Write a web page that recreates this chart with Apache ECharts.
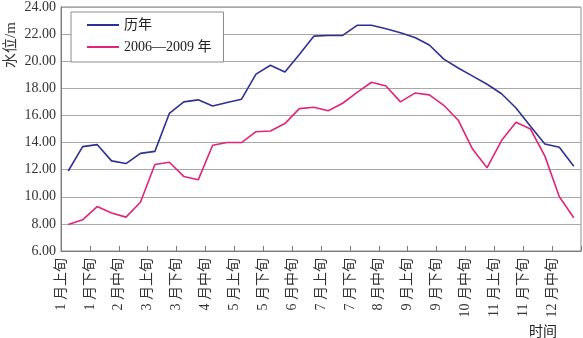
<!DOCTYPE html>
<html>
<head>
<meta charset="utf-8">
<script src="https://cdn.jsdelivr.net/npm/echarts@6/dist/echarts.min.js"></script>
<style>
html,body{margin:0;padding:0;background:#fff;}
#c{width:583px;height:338px;}
</style>
</head>
<body>
<div id="c"></div>
<script>
var months = ['1','2','3','4','5','6','7','8','9','10','11','12'];
var dekads = ['上旬','中旬','下旬'];
var categories = [];
months.forEach(function(m){ dekads.forEach(function(d){ categories.push(m + '月' + d); }); });

var seriesNames = ['历年', '2006—2009 年'];
var historical = [11.9, 13.7, 13.85, 12.65, 12.45, 13.2, 13.35, 16.15, 17.0, 17.15, 16.7, 16.95,
                  17.2, 19.05, 19.7, 19.2, 20.5, 21.85, 21.9, 21.9, 22.65, 22.65, 22.4, 22.1,
                  21.75, 21.2, 20.15, 19.5, 18.9, 18.3, 17.6, 16.55, 15.2, 13.9, 13.65, 12.25];
var recent = [7.95, 8.3, 9.28, 8.8, 8.5, 9.6, 12.38, 12.55, 11.5, 11.25, 13.8, 14.0,
              14.0, 14.8, 14.85, 15.4, 16.5, 16.6, 16.35, 16.9, 17.7, 18.45, 18.17, 17.0,
              17.65, 17.52, 16.75, 15.65, 13.5, 12.15, 14.15, 15.5, 15.0, 13.0, 10.0, 8.45];
var yMin = 6, yMax = 24, yStep = 2;
var yAxisTitle = '水位/m';
var xAxisTitle = '时间';

// label axis: one entry per band boundary (labels sit on the boundaries)
var boundaryLabels = categories.concat(['']);

var serif = '"Liberation Serif", "Noto Sans CJK SC", serif';
var chart = echarts.init(document.getElementById('c'), null, {renderer: 'canvas'});
chart.setOption({
  animation: false,
  backgroundColor: '#fff',
  grid: {left: 61, right: 2, top: 4, bottom: 87, show: true, borderColor: '#8c8c8c', borderWidth: 1},
  legend: {
    orient: 'vertical', left: 71, top: 12,
    padding: [5, 12, 7, 16], itemGap: 6, itemWidth: 32, itemHeight: 2, icon: 'rect',
    backgroundColor: '#fff', borderColor: '#8c8c8c', borderWidth: 1,
    textStyle: {fontFamily: serif, fontSize: 14, color: '#222', lineHeight: 16},
    data: seriesNames
  },
  xAxis: [{
    type: 'category', data: categories, boundaryGap: true,
    axisLine: {lineStyle: {color: '#7a7a7a', width: 1}},
    axisTick: {show: false},
    axisLabel: {show: false},
    splitLine: {show: false}
  }, {
    type: 'category', data: boundaryLabels, boundaryGap: false, position: 'bottom',
    axisLine: {show: false},
    axisTick: {show: true, inside: true, length: 5, interval: 1, lineStyle: {color: '#7a7a7a'}},
    axisLabel: {
      interval: 1, rotate: 90, margin: 7, fontSize: 14, fontFamily: serif, color: '#333',
      formatter: function(v){ return v.replace('月', ' 月'); }
    },
    splitLine: {show: false}
  }],
  yAxis: {
    type: 'value', min: yMin, max: yMax, interval: yStep,
    axisLine: {show: true, lineStyle: {color: '#7a7a7a', width: 1}},
    axisTick: {show: false},
    axisLabel: {fontSize: 14, fontFamily: serif, color: '#333', margin: 5,
      formatter: function(v){ return v.toFixed(2); }},
    splitLine: {show: true, lineStyle: {color: '#a8a8a8', width: 1}}
  },
  graphic: [
    {type: 'text', x: 11, y: 45, rotation: Math.PI / 2,
     style: {text: yAxisTitle, font: '15px ' + serif, fill: '#333', align: 'center', verticalAlign: 'middle'}},
    {type: 'text', x: 543, y: 331,
     style: {text: xAxisTitle, font: '14px "Noto Sans CJK SC", sans-serif', fill: '#222', align: 'center', verticalAlign: 'middle'}}
  ],
  series: [
    {name: seriesNames[0], type: 'line', data: historical, symbol: 'none', xAxisIndex: 0,
     lineStyle: {color: '#2f3192', width: 1.6}, itemStyle: {color: '#2f3192'}},
    {name: seriesNames[1], type: 'line', data: recent, symbol: 'none', xAxisIndex: 0,
     lineStyle: {color: '#e0247a', width: 1.6}, itemStyle: {color: '#e0247a'}}
  ]
});
</script>
</body>
</html>
